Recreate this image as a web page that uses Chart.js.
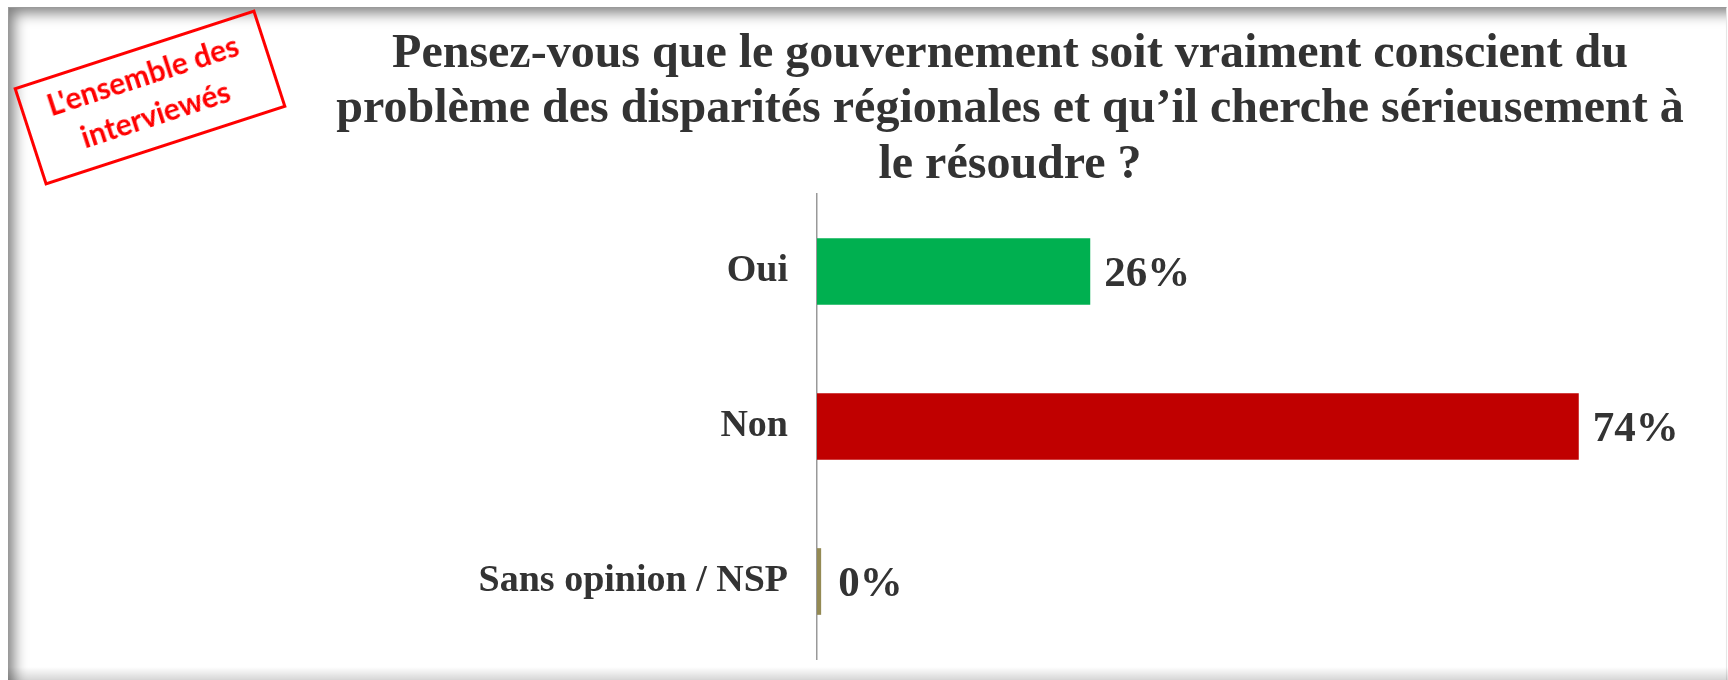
<!DOCTYPE html>
<html>
<head>
<meta charset="utf-8">
<script src="https://cdn.jsdelivr.net/npm/chart.js@4/dist/chart.umd.min.js"></script>
<style>
  html, body { margin:0; padding:0; background:#fff; width:1728px; height:680px; overflow:hidden; }
  .frame { position:absolute; left:8px; top:7px; width:1719px; height:673px; box-sizing:border-box;
           border-top:1px solid #9a9a9a; border-left:1px solid #9a9a9a; border-right:1px solid #e6e6e6;
           box-shadow: inset 10px 10px 14px -5px rgba(0,0,0,0.5); }
  .bottomshade { position:absolute; left:8px; top:667px; width:1720px; height:13px;
           background: linear-gradient(to bottom, rgba(0,0,0,0), rgba(0,0,0,0.16)); }
  canvas { position:absolute; left:0; top:0; }
  .stamp { position:absolute; left:23px; top:46px; width:254px; height:103px; box-sizing:border-box;
           border:3px solid #ff0000; transform:rotate(-18deg); display:flex; flex-direction:column;
           align-items:center; justify-content:center; color:#ff0000; font-family:Lato, "Open Sans", sans-serif;
           font-weight:bold; font-size:30px; line-height:41px; text-align:center; padding-bottom:8px; }
</style>
</head>
<body>
<div class="frame"></div>
<div class="bottomshade"></div>
<canvas id="c" width="1728" height="680"></canvas>
<div class="stamp"><div>L'ensemble des</div><div>interviewés</div></div>
<script>
const categories = ['Oui', 'Non', 'Sans opinion / NSP'];
const values = [26.4, 73.6, 0.4];
const barColors = ['#00B050', '#C00000', '#948A54'];
const titleLines = [
  'Pensez-vous que le gouvernement soit vraiment conscient du',
  'problème des disparités régionales et qu\u2019il cherche sérieusement à',
  'le résoudre ?'
];

const SERIF = '"Liberation Serif", "Times New Roman", serif';

const titleDraw = {
  id: 'titleDraw',
  afterDraw(chart) {
    const ctx = chart.ctx;
    ctx.save();
    ctx.fillStyle = '#333333';
    ctx.textAlign = 'center';
    ctx.textBaseline = 'alphabetic';
    ctx.font = 'bold 48px ' + SERIF;
    const cx = 1010;
    const baselines = [67, 122, 178];
    titleLines.forEach((line, i) => {
      ctx.fillText(line, cx, baselines[i]);
    });
    ctx.restore();
  }
};

const valueLabels = {
  id: 'valueLabels',
  afterDatasetsDraw(chart) {
    const ctx = chart.ctx;
    const meta = chart.getDatasetMeta(0);
    ctx.save();
    ctx.font = 'bold 43px ' + SERIF;
    ctx.fillStyle = '#333333';
    ctx.textAlign = 'left';
    ctx.textBaseline = 'middle';
    meta.data.forEach((bar, i) => {
      ctx.fillText(Math.round(values[i]) + '%', bar.x + (values[i] < 1 ? 17 : 14), bar.y + 3);
    });
    ctx.restore();
  }
};

new Chart(document.getElementById('c'), {
  type: 'bar',
  data: {
    labels: categories,
    datasets: [{
      data: values,
      backgroundColor: barColors,
      borderWidth: 0,
      categoryPercentage: 1,
      barPercentage: 0.43
    }]
  },
  options: {
    indexAxis: 'y',
    responsive: false,
    animation: false,
    layout: { padding: { left: 375, right: 83, top: 194, bottom: 21 } },
    plugins: {
      legend: { display: false },
      tooltip: { enabled: false },
      title: { display: false }
    },
    scales: {
      x: { display: false, min: 0, max: 80 },
      y: {
        position: 'left',
        grid: { display: false, drawTicks: false },
        border: { display: true, color: '#999999', width: 1.5 },
        ticks: {
          color: '#333333',
          padding: 29,
          font: { family: SERIF, size: 38, weight: 'bold' }
        },
        afterFit(scale) { scale.width = 442; scale.paddingTop = 0; scale.paddingBottom = 0; }
      }
    }
  },
  plugins: [valueLabels, titleDraw]
});
</script>
</body>
</html>
